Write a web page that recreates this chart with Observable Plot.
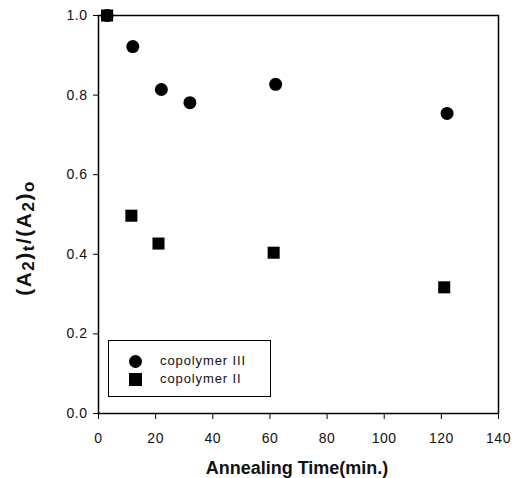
<!DOCTYPE html>
<html>
<head>
<meta charset="utf-8">
<script src="https://cdn.jsdelivr.net/npm/d3@7"></script>
<script src="https://cdn.jsdelivr.net/npm/@observablehq/plot@0.6"></script>
<style>
  body { margin: 0; background: #fff; font-family: "Liberation Sans", Arial, sans-serif; }
  #wrap { position: relative; width: 515px; height: 478px; }
  #legend { position: absolute; left: 108px; top: 340px; width: 161px; height: 55px;
            border: 1.5px solid #000; background: #fff; font-size: 13px; letter-spacing: 0.9px; color: #111; }
  .sym { position: absolute; left: 20px; width: 13px; height: 13px; background: #000; }
  .lab { position: absolute; left: 51px; white-space: nowrap; line-height: 15px; }
</style>
</head>
<body>
<div id="wrap"></div>
<script>
const seriesNames = ["copolymer III", "copolymer II"];
const timeIII = [3, 12, 22, 32, 62, 122];
const ratioIII = [1.0, 0.922, 0.814, 0.781, 0.827, 0.754];
const timeII = [3, 11.5, 21, 61.3, 121];
const ratioII = [1.0, 0.497, 0.427, 0.404, 0.317];
const xTicks = [0, 20, 40, 60, 80, 100, 120, 140];
const yTicks = [0.0, 0.2, 0.4, 0.6, 0.8, 1.0];

const dataIII = timeIII.map((t, i) => ({t, r: ratioIII[i], s: seriesNames[0]}));
const dataII = timeII.map((t, i) => ({t, r: ratioII[i], s: seriesNames[1]}));

const chart = Plot.plot({
  width: 515,
  height: 478,
  marginLeft: 98,
  marginRight: 17,
  marginTop: 15,
  marginBottom: 65,
  style: {fontFamily: "'Liberation Sans', Arial, sans-serif", fontSize: "14px", color: "#111", background: "#fff"},
  x: {domain: [0, 140], ticks: xTicks, tickSize: 6, tickPadding: 14, label: null},
  y: {domain: [0, 1], ticks: yTicks, tickFormat: d3.format(".1f"), tickSize: 5, tickPadding: 6, label: null},
  marks: [
    Plot.frame({stroke: "#000", strokeWidth: 1.5}),
    Plot.dot(dataIII, {x: "t", y: "r", r: 6.5, fill: "#000", symbol: "circle"}),
    Plot.dot(dataII, {x: "t", y: "r", r: 6.8, fill: "#000", symbol: "square"})
  ]
});

const svg = d3.select(chart);
svg.selectAll("g").filter(function() { return this.hasAttribute("font-size"); }).attr("font-size", 14);
svg.selectAll("text").attr("font-size", 14).attr("letter-spacing", "0.5px").attr("fill", "#111");
svg.selectAll("line, path").filter(function() { return !this.closest("[aria-label='dot']"); }).attr("stroke", "#000");

// y-axis label with subscripts
const yl = svg.append("text")
  .attr("transform", "translate(31,238) rotate(-90)")
  .attr("text-anchor", "middle")
  .attr("font-weight", "bold")
  .attr("font-size", 21)
  .attr("letter-spacing", "1.5px")
  .attr("fill", "#111");
yl.append("tspan").text("(A");
yl.append("tspan").attr("font-size", 17).attr("dy", 3).text("2");
yl.append("tspan").attr("dy", -3).text(")");
yl.append("tspan").attr("font-size", 17).attr("dy", 3).text("t");
yl.append("tspan").attr("dy", -3).text("/(A");
yl.append("tspan").attr("font-size", 17).attr("dy", 3).text("2");
yl.append("tspan").attr("dy", -3).text(")");
yl.append("tspan").attr("font-size", 17).attr("dy", 3).text("o");

// x-axis label
svg.append("text")
  .attr("x", 297).attr("y", 474)
  .attr("text-anchor", "middle")
  .attr("font-weight", "bold")
  .attr("font-size", 18)
  .attr("fill", "#111")
  .text("Annealing Time(min.)");

const wrap = document.getElementById("wrap");
wrap.appendChild(chart);

// legend
const legend = document.createElement("div");
legend.id = "legend";
const shapes = ["50%", "0"];
const tops = [20, 38];
seriesNames.forEach((name, i) => {
  const sym = document.createElement("div");
  sym.className = "sym";
  sym.style.borderRadius = shapes[i];
  sym.style.top = (tops[i] - 6.5) + "px";
  const lab = document.createElement("div");
  lab.className = "lab";
  lab.style.top = (tops[i] - 8) + "px";
  lab.textContent = name;
  legend.appendChild(sym);
  legend.appendChild(lab);
});
wrap.appendChild(legend);
</script>
</body>
</html>
